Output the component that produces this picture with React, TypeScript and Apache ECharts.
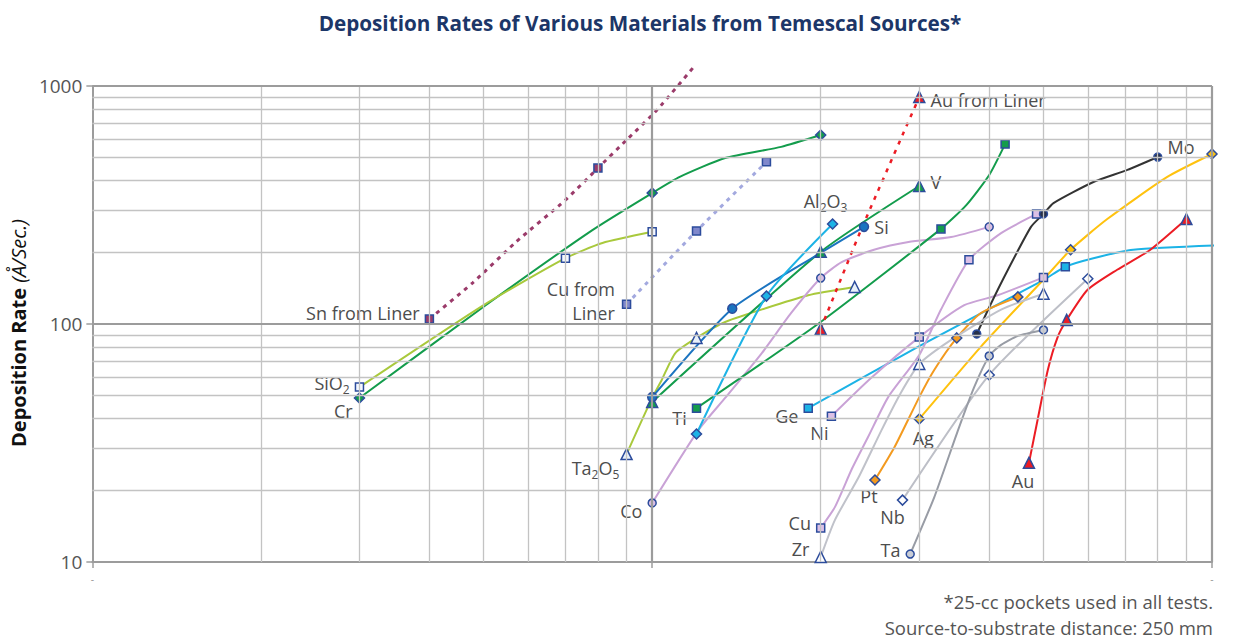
import React, { useEffect, useRef } from 'react';
import * as echarts from 'echarts';

const FONT = "'Open Sans', 'Noto Sans', 'DejaVu Sans', sans-serif";
const MARK_BORDER = '#2c4c9c';

// each point: [x, deposition rate (Å/s), 1 = plotted marker / 0 = bend of the curve]
const snFromLiner = [[4, 105, 1], [4.78, 149, 0], [5.71, 221, 0], [7.0, 332, 0], [8, 452, 1], [9.03, 598, 0], [10.2, 793, 0], [11.9, 1213, 0]];
const cr = [[3, 48.9, 1], [5.02, 119, 0], [7.82, 248, 0], [10, 355, 1], [11.2, 415, 0], [13.5, 498, 0], [17, 555, 0], [20, 622, 1]];
const sio2 = [[3, 54.3, 1], [5.0, 120, 0], [7, 189, 1], [8.15, 219, 0], [10, 244, 1]];
const cuFromLiner = [[9, 121, 1], [12, 246, 1], [16, 480, 1]];
const ta2o5 = [[9, 28.4, 1], [10, 48.9, 0], [10.4, 58.2, 0], [11.0, 75.5, 0], [12, 87.4, 1], [13.5, 102, 0], [19.0, 132, 0], [23, 143, 1]];
const co = [[10, 17.7, 1], [12.1, 35.9, 0], [13.5, 48.9, 0], [15.7, 75.5, 0], [17.7, 111, 0], [20, 156, 1], [21.8, 182, 0], [24.9, 205, 0], [28.7, 221, 0], [34.2, 232, 0], [40, 256, 1]];
const ti = [[12.0, 44.3, 1], [20, 102, 0], [32.8, 251, 1], [36.4, 316, 0], [40, 423, 0], [42.7, 570, 1]];
const v = [[10, 47.0, 1], [20, 201, 1], [30, 380, 1]];
const si = [[10, 49.3, 1], [13.9, 116, 1], [20, 199, 0], [23.9, 256, 1]];
const al2o3 = [[12.0, 34.5, 1], [16.0, 131, 1], [21.0, 263, 1]];
const auFromLiner = [[20, 95.3, 1], [23.6, 248, 0], [30, 899, 1]];
const ge = [[19.0, 44.3, 1], [30, 80.8, 0], [50, 153, 0], [54.7, 174, 1], [61.4, 189, 0], [72.3, 205, 0], [109, 215, 0]];
const ni = [[20.9, 41.0, 1], [24.6, 59.3, 0], [30, 88.1, 1], [36.1, 120, 0], [41.4, 132, 0], [50, 157, 1]];
const cu = [[20, 13.9, 1], [21.2, 17.0, 0], [22.7, 24.4, 0], [24.3, 33.5, 0], [26.4, 49.3, 0], [30, 74.1, 0], [32.8, 115, 0], [36.8, 186, 1], [42.0, 241, 0], [48.6, 290, 1]];
const mo = [[38, 90.8, 1], [40.3, 122, 0], [43.2, 169, 0], [47.5, 256, 0], [50, 290, 1], [52.1, 322, 0], [61.4, 395, 0], [70.6, 444, 0], [80, 503, 1]];
const ag = [[30, 39.9, 1], [38.6, 80.0, 0], [49.4, 149, 0], [55.9, 205, 1], [65.0, 276, 0], [83.2, 415, 0], [100, 518, 1]];
const pt = [[25, 22.1, 1], [27.1, 30.4, 0], [30, 49.3, 0], [31.9, 64.1, 0], [35, 87.4, 1], [38.6, 111, 0], [45, 130, 1]];
const nb = [[28, 18.2, 1], [40, 61.1, 1], [60, 155, 1]];
const ta = [[28.9, 10.8, 1], [31.9, 18.7, 0], [35.2, 35.9, 0], [37.6, 54.3, 0], [40, 73.4, 1], [42.0, 81.7, 0], [45.0, 89.1, 0], [50, 94.4, 1]];
const zr = [[20, 10.5, 1], [21.2, 15.0, 0], [23.4, 22.8, 0], [25.7, 35.9, 0], [27.8, 51.3, 0], [30, 67.9, 1], [34.2, 85.7, 0], [42.0, 115, 0], [50, 134, 1]];
const au = [[47.1, 26.1, 1], [48.8, 39.5, 0], [50.9, 64.1, 0], [53.0, 88.1, 0], [55, 104, 1], [59.9, 139, 0], [67.7, 169, 0], [77.6, 205, 0], [90, 276, 1]];

// grid values
const X_MINOR = [2, 3, 4, 5, 6, 7, 8, 9, 20, 30, 40, 50, 60, 70, 80, 90];
const Y_MINOR = [20, 30, 40, 50, 60, 70, 80, 90, 200, 300, 400, 500, 600, 700, 800, 900];
const X_MAJOR = [10, 100];
const Y_MAJOR = [100, 1000];

const TITLE = 'Deposition Rates of Various Materials from Temescal Sources*';
const NOTES = ['*25-cc pockets used in all tests.', 'Source-to-substrate distance: 250 mm'];

const GREEN = '#139c4c';
const LIME = '#a9c93c';
const CYAN = '#1cb3e6';
const LILAC = '#c9a2d6';

type Def = {
  key: string; data: number[][]; color: string; width?: number; dash?: number[];
  symbol: string; fill: string; size: number; text: string; at: 'first' | 'last';
  pos: string; off: number[]; clip?: boolean; lh?: number;
};

const DEFS: Def[] = [
  { key: 'Sn from Liner', data: snFromLiner, color: '#9b3b6a', width: 3, dash: [4, 5], symbol: 'rect', fill: '#9b3b6a', size: 8, text: 'Sn from Liner', at: 'first', pos: 'left', off: [0, -6], clip: false },
  { key: 'Cr', data: cr, color: GREEN, symbol: 'diamond', fill: GREEN, size: 10, text: 'Cr', at: 'first', pos: 'left', off: [4, 13] },
  { key: 'SiO2', data: sio2, color: LIME, symbol: 'rect', fill: '#f4f8ff', size: 8, text: '{n|SiO}{s|2}', at: 'first', pos: 'left', off: [0, -4] },
  { key: 'Cu from Liner', data: cuFromLiner, color: '#a3a9df', width: 3, dash: [4, 5], symbol: 'rect', fill: '#8088cc', size: 8, text: 'Cu from\nLiner', at: 'first', pos: 'left', off: [-2, -3], lh: 24 },
  { key: 'Ta2O5', data: ta2o5, color: LIME, symbol: 'triangle', fill: '#e8f1fa', size: 11, text: '{n|Ta}{s|2}{n|O}{s|5}', at: 'first', pos: 'left', off: [4, 14] },
  { key: 'Co', data: co, color: LILAC, symbol: 'circle', fill: '#dcc0e6', size: 8, text: 'Co', at: 'first', pos: 'left', off: [0, 8] },
  { key: 'Ti', data: ti, color: GREEN, symbol: 'rect', fill: GREEN, size: 8, text: 'Ti', at: 'first', pos: 'left', off: [0, 10] },
  { key: 'V', data: v, color: GREEN, symbol: 'triangle', fill: GREEN, size: 11, text: 'V', at: 'last', pos: 'right', off: [0, -4] },
  { key: 'Si', data: si, color: '#1b74c0', symbol: 'circle', fill: '#1b74c0', size: 9, text: 'Si', at: 'last', pos: 'right', off: [0, 0] },
  { key: 'Al2O3', data: al2o3, color: CYAN, symbol: 'diamond', fill: CYAN, size: 10, text: '{n|Al}{s|2}{n|O}{s|3}', at: 'last', pos: 'top', off: [-7, 0] },
  { key: 'Au from Liner', data: auFromLiner, color: '#ec1c24', width: 2.5, dash: [4, 6], symbol: 'triangle', fill: '#ec1c24', size: 11, text: 'Au from Liner', at: 'last', pos: 'right', off: [0, 3] },
  { key: 'Ge', data: ge, color: CYAN, symbol: 'rect', fill: CYAN, size: 8, text: 'Ge', at: 'first', pos: 'left', off: [0, 8], clip: false },
  { key: 'Ni', data: ni, color: LILAC, symbol: 'rect', fill: '#dcc0e6', size: 8, text: 'Ni', at: 'first', pos: 'bottom', off: [-12, -3] },
  { key: 'Cu', data: cu, color: LILAC, symbol: 'rect', fill: '#dcc0e6', size: 8, text: 'Cu', at: 'first', pos: 'left', off: [0, -5] },
  { key: 'Mo', data: mo, color: '#333333', symbol: 'circle', fill: '#26304a', size: 8, text: 'Mo', at: 'last', pos: 'right', off: [0, -10] },
  { key: 'Ag', data: ag, color: '#ffc20e', symbol: 'diamond', fill: '#ffc20e', size: 10, text: 'Ag', at: 'first', pos: 'bottom', off: [4, -2] },
  { key: 'Pt', data: pt, color: '#f39a1f', symbol: 'diamond', fill: '#f39a1f', size: 10, text: 'Pt', at: 'first', pos: 'bottom', off: [-6, -5] },
  { key: 'Nb', data: nb, color: '#bdbfc7', symbol: 'diamond', fill: '#ffffff', size: 10, text: 'Nb', at: 'first', pos: 'bottom', off: [-10, -4] },
  { key: 'Ta', data: ta, color: '#989ca5', symbol: 'circle', fill: '#c9cdd6', size: 8, text: 'Ta', at: 'first', pos: 'left', off: [0, -4] },
  { key: 'Zr', data: zr, color: '#c0c2ca', symbol: 'triangle', fill: '#ffffff', size: 11, text: 'Zr', at: 'first', pos: 'left', off: [0, -8] },
  { key: 'Au', data: au, color: '#ec1c24', symbol: 'triangle', fill: '#ec1c24', size: 11, text: 'Au', at: 'first', pos: 'bottom', off: [-6, -4] },
];

const LABEL_COLOR = '#4d4d4d';
const RICH = {
  n: { fontSize: 18, color: LABEL_COLOR, fontFamily: FONT, verticalAlign: 'middle', lineHeight: 24 },
  s: { fontSize: 12, color: LABEL_COLOR, fontFamily: FONT, verticalAlign: 'bottom', lineHeight: 12 },
};

function buildSeries(): any[] {
  const series: any[] = DEFS.map((d) => {
    const marked = d.data.map((p, i) => (p[2] ? i : -1)).filter((i) => i >= 0);
    const labelIdx = d.at === 'last' ? marked[marked.length - 1] : marked[0];
    return {
      name: d.key,
      type: 'line',
      z: 3,
      clip: d.clip === undefined ? true : d.clip,
      smooth: 0.2,
      showSymbol: true,
      showAllSymbol: true,
      lineStyle: { color: d.color, width: d.width || 2, type: d.dash || 'solid', cap: 'butt' },
      itemStyle: { color: d.fill, borderColor: MARK_BORDER, borderWidth: 1.5 },
      emphasis: { disabled: true },
      data: d.data.map((p, i) => ({
        value: [p[0], p[1]],
        symbol: p[2] ? d.symbol : 'none',
        symbolSize: p[2] ? d.size : 0,
        label: i === labelIdx
          ? {
              show: true,
              position: d.pos,
              offset: d.off,
              formatter: d.text,
              color: LABEL_COLOR,
              fontSize: 18,
              lineHeight: d.lh || 21,
              fontFamily: FONT,
              rich: RICH,
            }
          : { show: false },
      })),
    };
  });

  const gridLines = [
    ...X_MINOR.map((x) => ({ xAxis: x, lineStyle: { color: '#c3c3c3', width: 1.3 } })),
    ...Y_MINOR.map((y) => ({ yAxis: y, lineStyle: { color: '#c3c3c3', width: 1.3 } })),
    ...X_MAJOR.map((x) => ({ xAxis: x, lineStyle: { color: '#9c9c9c', width: 2.2 } })),
    ...Y_MAJOR.map((y) => ({ yAxis: y, lineStyle: { color: '#9c9c9c', width: 2.2 } })),
  ];

  series.unshift({
    name: 'grid',
    type: 'line',
    z: 1,
    data: [[1, 10]],
    symbol: 'none',
    lineStyle: { opacity: 0 },
    silent: true,
    markLine: {
      silent: true,
      symbol: ['none', 'none'],
      label: { show: false },
      emphasis: { disabled: true },
      lineStyle: { type: 'solid' },
      data: gridLines,
    },
  });
  return series;
}

export default function App() {
  const ref = useRef<HTMLDivElement>(null);

  useEffect(() => {
    document.body.style.margin = '0';
    if (!ref.current) return;
    const chart = echarts.init(ref.current, null, { renderer: 'svg' });
    chart.setOption({
      animation: false,
      backgroundColor: '#ffffff',
      title: {
        text: TITLE,
        left: 635,
        textAlign: 'center',
        top: 7,
        textStyle: { fontSize: 20.7, fontWeight: 'bold', color: '#1c3668', fontFamily: FONT },
      },
      grid: { left: 88, right: 21, top: 86, bottom: 78, containLabel: false },
      xAxis: {
        type: 'log',
        logBase: 10,
        min: 1,
        max: 100,
        axisLine: { show: true, lineStyle: { color: '#9c9c9c', width: 2 } },
        axisTick: { show: true, length: 6, lineStyle: { color: '#9c9c9c', width: 1.5 } },
        axisLabel: {
          color: '#9c9c9c',
          fontSize: 10,
          margin: 12,
          formatter: (val: number) => (Math.abs(val - 1) < 1e-6 || Math.abs(val - 100) < 1e-6 ? '-' : ''),
        },
        splitLine: { show: false },
      },
      yAxis: {
        type: 'log',
        logBase: 10,
        min: 10,
        max: 1000,
        axisLine: { show: true, lineStyle: { color: '#9c9c9c', width: 2 } },
        axisTick: { show: true, length: 6, lineStyle: { color: '#9c9c9c', width: 1.5 } },
        axisLabel: { color: '#555555', fontSize: 19, fontFamily: FONT, margin: 10, formatter: (val: number) => String(Math.round(val)) },
        splitLine: { show: false },
        name: '{b|Deposition Rate }{i|(Å/Sec.)}',
        nameLocation: 'middle',
        nameGap: 52,
        nameRotate: 90,
        nameTextStyle: {
          padding: [0, 18, 0, 0],
          rich: {
            b: { fontSize: 20, fontWeight: 'bold', color: '#111111', fontFamily: FONT },
            i: { fontSize: 20, fontStyle: 'italic', color: '#111111', fontFamily: FONT },
          },
        },
      },
      graphic: [
        { type: 'text', right: 20, top: 592, style: { text: NOTES[0], fill: '#555555', font: `18.5px ${FONT}` } },
        { type: 'text', right: 20, top: 618, style: { text: NOTES[1], fill: '#555555', font: `18.5px ${FONT}` } },
      ],
      series: buildSeries(),
    });
    return () => chart.dispose();
  }, []);

  return <div ref={ref} style={{ width: 1233, height: 640 }} />;
}
